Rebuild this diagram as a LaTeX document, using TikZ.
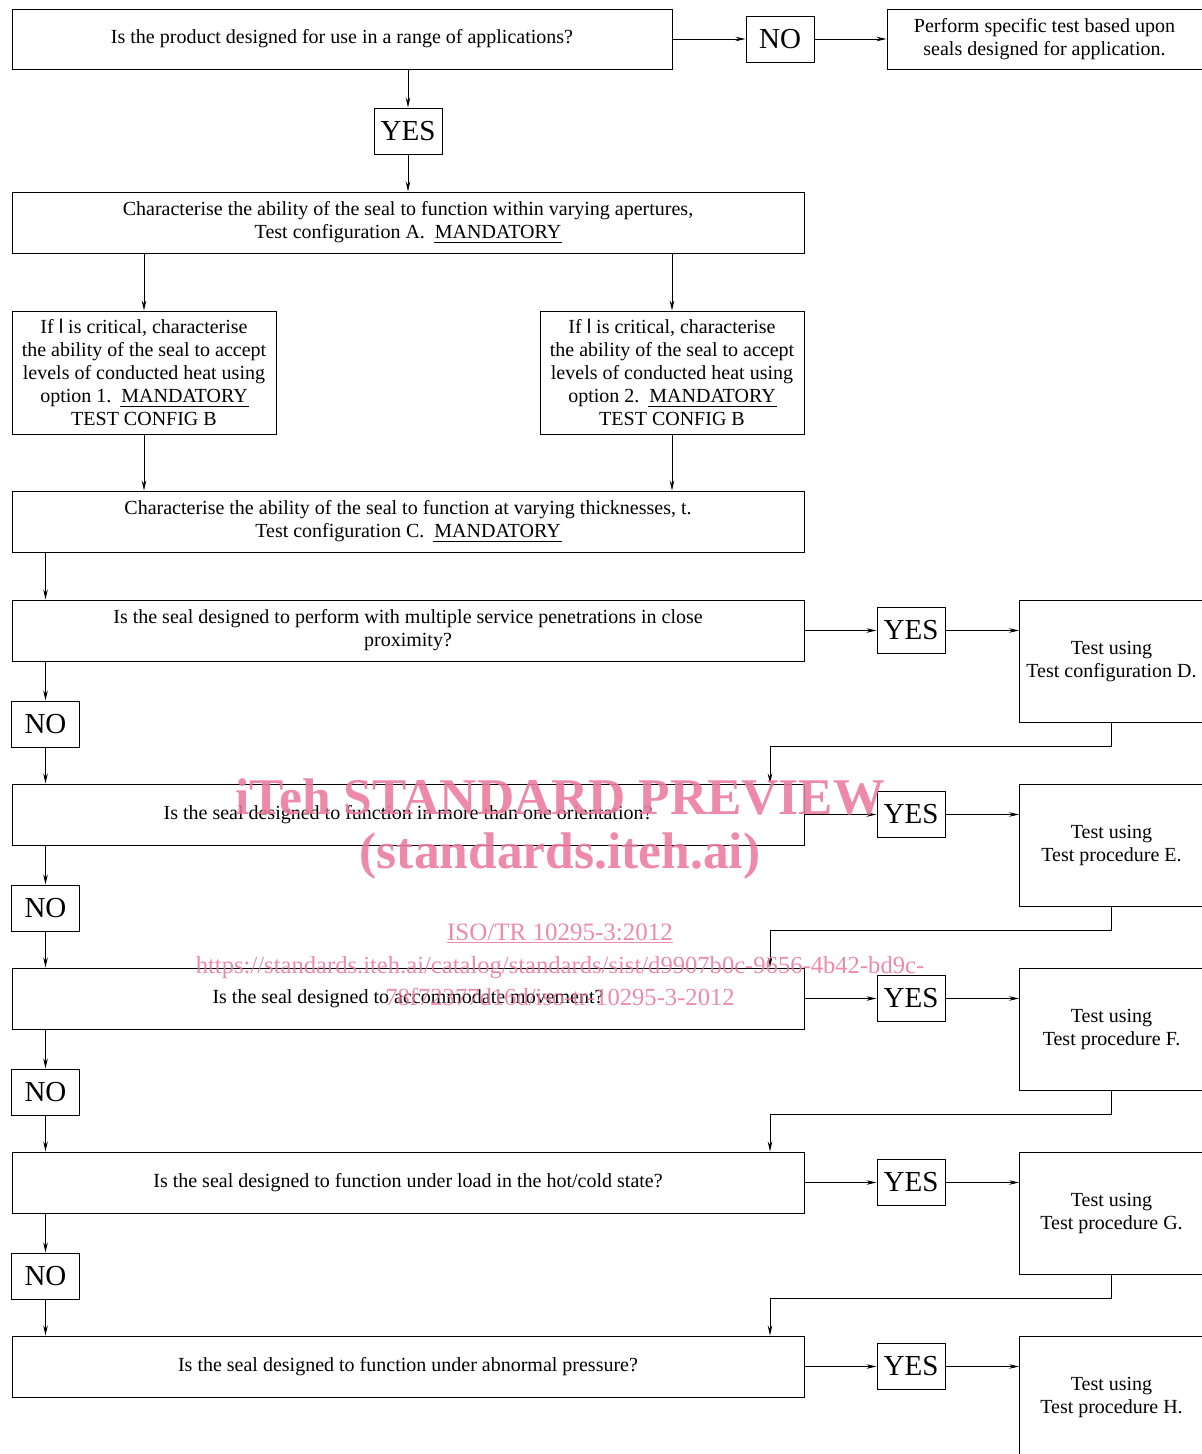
\documentclass[tikz,border=0pt]{standalone}
\usepackage{fontspec}
\setmainfont{Liberation Serif}
\setsansfont{Liberation Sans}
\usetikzlibrary{arrows.meta,positioning,calc}
\definecolor{wmPink}{RGB}{234,122,158}
% underlined keyword, rule a bit wider than the word
\newcommand{\mandul}[1]{\setbox0\hbox{#1}\leavevmode\rlap{\kern-1pt\rule[-4.5pt]{\dimexpr\wd0+2pt\relax}{1.6pt}}\box0}

\begin{document}
\begin{tikzpicture}[x=1pt,y=-1pt,
    box/.style={draw,line width=1pt,inner sep=0pt,align=center,
                font=\fontsize{20}{23}\selectfont},
    yn/.style={draw,line width=1pt,inner sep=0pt,minimum width=68pt,
               minimum height=46pt,font=\fontsize{29}{30}\selectfont},
    arr/.style={-{Stealth[length=10pt,width=4.5pt]},line width=0.9pt}]
  \useasboundingbox (0,0) rectangle (1202,1454);

  % range of applications
  \node[box,minimum width=660pt,minimum height=60pt] (qApp) at (342,39)
    {Is the product designed for use in a range of applications?};
  \node[yn] (noApp) at (780,39) {NO};
  \node[box,minimum width=315pt,minimum height=60pt] (specific) at (1044.5,39)
    {Perform specific test based upon\\seals designed for application.};
  \node[yn] (yesApp) at (408,131) {YES};

  % mandatory configurations
  \node[box,minimum width=792pt,minimum height=61pt] (cfgA) at (408,222.5)
    {Characterise the ability of the seal to function within varying apertures,\\
     Test configuration A.\ \ \mandul{MANDATORY}};
  \node[box,minimum width=264pt,minimum height=123pt] (optOne) at (144,372.5)
    {If {\sffamily l} is critical, characterise\\the ability of the seal to accept\\
     levels of conducted heat using\\option 1.\ \ \mandul{MANDATORY}\\TEST CONFIG B};
  \node[box,minimum width=264pt,minimum height=123pt] (optTwo) at (672,372.5)
    {If {\sffamily l} is critical, characterise\\the ability of the seal to accept\\
     levels of conducted heat using\\option 2.\ \ \mandul{MANDATORY}\\TEST CONFIG B};
  \node[box,minimum width=792pt,minimum height=61pt] (cfgC) at (408,521.5)
    {Characterise the ability of the seal to function at varying thicknesses, t.\\
     Test configuration C.\ \ \mandul{MANDATORY}};

  % optional questions
  \foreach \tag/\yy/\question/\result in {
      D/630.5/{Is the seal designed to perform with multiple service penetrations in close\\proximity?}/{Test configuration D.},
      E/814.5/{Is the seal designed to function in more than one orientation?}/{Test procedure E.},
      F/998.5/{Is the seal designed to accommodate movement?}/{Test procedure F.},
      G/1182.5/{Is the seal designed to function under load in the hot/cold state?}/{Test procedure G.},
      H/1366.5/{Is the seal designed to function under abnormal pressure?}/{Test procedure H.}}{
    \node[box,minimum width=792pt,minimum height=61pt] (q\tag) at (408,\yy) {\question};
    \node[yn] (yes\tag) at (911,\yy) {YES};
    \node[box,minimum width=184pt,minimum height=122pt,anchor=north west]
      (res\tag) at (1019,\yy-30.5) {Test using\\\result};
    \draw[arr] (q\tag) -- (yes\tag);
    \draw[arr] (yes\tag) -- (yes\tag -| res\tag.west);
  }
  \foreach \tag/\nxt in {D/E,E/F,F/G,G/H}{
    \node[yn,below=39pt of q\tag.south west,xshift=34pt] (no\tag) {NO};
    \draw[arr] (q\tag.south -| no\tag) -- (no\tag);
    \draw[arr] (no\tag) -- (q\nxt.north -| no\tag);
    \draw[arr] (res\tag.south) -- ++(0,23) -| ([xshift=362pt]q\nxt.north);
  }

  % connectors
  \draw[arr] (qApp) -- (noApp);
  \draw[arr] (noApp) -- (specific);
  \draw[arr] (qApp.south -| yesApp) -- (yesApp);
  \draw[arr] (yesApp) -- (cfgA);
  \draw[arr] (cfgA.south -| optOne) -- (optOne);
  \draw[arr] (cfgA.south -| optTwo) -- (optTwo);
  \draw[arr] (optOne) -- (optOne |- cfgC.north);
  \draw[arr] (optTwo) -- (optTwo |- cfgC.north);
  \draw[arr] (cfgC.south -| noD) -- (qD.north -| noD);

  % watermark
  \begin{scope}[wmPink,opacity=0.88]
    \node[font=\fontsize{51.5}{50}\selectfont\bfseries] (wmTitle) at (560,797)
      {iTeh STANDARD PREVIEW};
    \node[font=\fontsize{51.5}{50}\selectfont\bfseries] (wmSite) at (560,856)
      {(standards.iteh.ai)};
    \node[font=\fontsize{25}{25}\selectfont] (wmStd) at (560,933)
      {\underline{ISO/TR 10295-3:2012}};
    \node[font=\fontsize{24.6}{32}\selectfont,align=center] (wmUrl) at (560,981)
      {https://standards.iteh.ai/catalog/standards/sist/d9907b0c-9656-4b42-bd9c-\\
       78f72377d16d/iso-tr-10295-3-2012};
  \end{scope}
\end{tikzpicture}
\end{document}
